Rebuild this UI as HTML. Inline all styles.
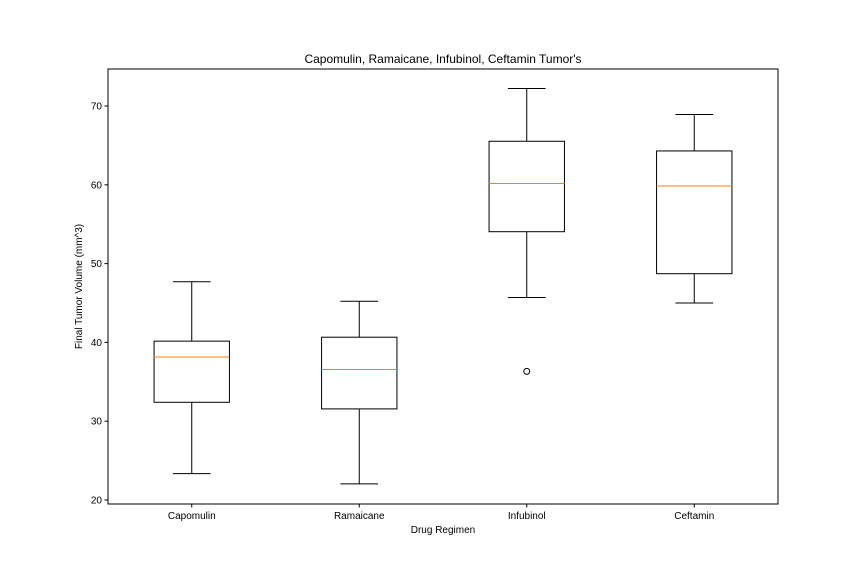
<!DOCTYPE html>
<html><head><meta charset="utf-8"><style>
html,body{margin:0;padding:0;background:#fff;}
svg{display:block;font-family:"Liberation Sans","DejaVu Sans",sans-serif;}
</style></head><body>
<svg id="chart" width="864" height="576"></svg>
<script>
const categories = ["Capomulin","Ramaicane","Infubinol","Ceftamin"];
const whiskerLow = [23.34, 22.05, 45.7, 45.0];
const q1Values = [32.4, 31.56, 54.05, 48.72];
const medianValues = [38.13, 36.56, 60.17, 59.85];
const q3Values = [40.16, 40.66, 65.53, 64.3];
const whiskerHigh = [47.69, 45.22, 72.23, 68.92];
const outlierCat = [2];
const outlierVal = [36.32];
const yTicks = [20,30,40,50,60,70];

const NS="http://www.w3.org/2000/svg";
const svg=document.getElementById('chart');
const L=108,R=778,T=69,B=504;
const yMin=19.49,yMax=74.7;
const y=v=>B-(v-yMin)/(yMax-yMin)*(B-T);
const x=i=>L+(i+0.5)/categories.length*(R-L);
const bw=0.45*(R-L)/categories.length*0.5;
function el(tag,attrs,text){const e=document.createElementNS(NS,tag);for(const k in attrs)e.setAttribute(k,attrs[k]);if(text!==undefined)e.textContent=text;svg.appendChild(e);return e;}

let e=el('rect',{x:L,y:T,width:R-L,height:B-T,fill:'none',stroke:'#000','stroke-width':1});



yTicks.forEach(t=>{
  const yy=y(t);
  let tk=el('line',{x1:L-3.5,x2:L,y1:yy,y2:yy,stroke:'#000'});
  
  
  let lb=el('text',{x:L-6,y:yy+3.5,'text-anchor':'end','font-size':10},String(t));
  
  
});

categories.forEach((c,i)=>{
  const cx=x(i);
  let tk=el('line',{x1:cx,x2:cx,y1:B,y2:B+3.5,stroke:'#000'});
  
  
  let lb=el('text',{x:cx,y:B+15,'text-anchor':'middle','font-size':10},c);
  
  
  let w1=el('line',{x1:cx,x2:cx,y1:y(whiskerLow[i]),y2:y(q1Values[i]),stroke:'#000'});
  
  
  let w2=el('line',{x1:cx,x2:cx,y1:y(q3Values[i]),y2:y(whiskerHigh[i]),stroke:'#000'});
  
  
  let c1=el('line',{x1:cx-bw/2,x2:cx+bw/2,y1:y(whiskerLow[i]),y2:y(whiskerLow[i]),stroke:'#000'});
  
  
  let c2=el('line',{x1:cx-bw/2,x2:cx+bw/2,y1:y(whiskerHigh[i]),y2:y(whiskerHigh[i]),stroke:'#000'});
  
  
  let bx=el('rect',{x:cx-bw,y:y(q3Values[i]),width:2*bw,height:y(q1Values[i])-y(q3Values[i]),fill:'none',stroke:'#000'});
  
  
  let md=el('line',{x1:cx-bw,x2:cx+bw,y1:y(medianValues[i]),y2:y(medianValues[i]),stroke:'#ff7f0e','shape-rendering':'crispEdges'});
  
  
});

outlierCat.forEach((ci,k)=>{
  let o=el('circle',{cx:x(ci),cy:y(outlierVal[k]),r:3,fill:'none',stroke:'#000'});
  
  
});

let t=el('text',{x:(L+R)/2,y:T-6,'text-anchor':'middle','font-size':12},"Capomulin, Ramaicane, Infubinol, Ceftamin Tumor's");


let xt=el('text',{x:(L+R)/2,y:B+29,'text-anchor':'middle','font-size':10},"Drug Regimen");


let yt=el('text',{x:0,y:0,'text-anchor':'middle','font-size':10,transform:`translate(82,${(T+B)/2}) rotate(-90)`},"Final Tumor Volume (mm^3)");


</script>
</body></html>
